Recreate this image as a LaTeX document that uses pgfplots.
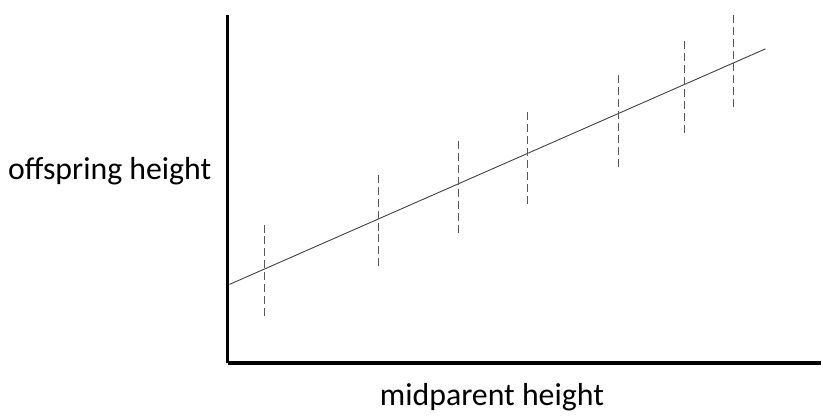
\documentclass[border=0pt]{standalone}
\usepackage{pgfplots}
\pgfplotsset{compat=1.18}
\usepackage{fontspec}
\setmainfont{Carlito}
\begin{document}
\begin{tikzpicture}[x=1bp,y=1bp]
\begin{axis}[
  scale only axis,
  width=595bp, height=349bp,
  xmin=228, xmax=823, ymin=56, ymax=405,
  axis x line=bottom, axis y line=left,
  axis line style={-, line width=3.5bp, black},
  xtick=\empty, ytick=\empty,
  clip=false,
]
% invisible frame of the whole picture
\path (axis cs:0,0) rectangle (axis cs:823,420);
% regression line
\addplot[black!75, line width=0.9bp] coordinates {(230,135) (767,371)};
% dashed spreads
\addplot[black!65, line width=0.9bp, dash pattern=on 8bp off 4bp] coordinates {(265,103) (265,197)};
\addplot[black!65, line width=0.9bp, dash pattern=on 8bp off 4bp] coordinates {(379,153) (379,248)};
\addplot[black!65, line width=0.9bp, dash pattern=on 8bp off 4bp] coordinates {(459,187) (459,281)};
\addplot[black!65, line width=0.9bp, dash pattern=on 8bp off 4bp] coordinates {(529,216) (529,310)};
\addplot[black!65, line width=0.9bp, dash pattern=on 8bp off 4bp] coordinates {(620,253) (620,348)};
\addplot[black!65, line width=0.9bp, dash pattern=on 8bp off 4bp] coordinates {(686,287) (686,382)};
\addplot[black!65, line width=0.9bp, dash pattern=on 8bp off 4bp] coordinates {(735,313) (735,407)};
\node[font=\fontsize{32}{38}\selectfont, anchor=center] at (axis cs:110,248) {offspring height};
\node[font=\fontsize{32}{38}\selectfont, anchor=center] at (axis cs:493,22) {midparent height};
\end{axis}
\end{tikzpicture}
\end{document}
